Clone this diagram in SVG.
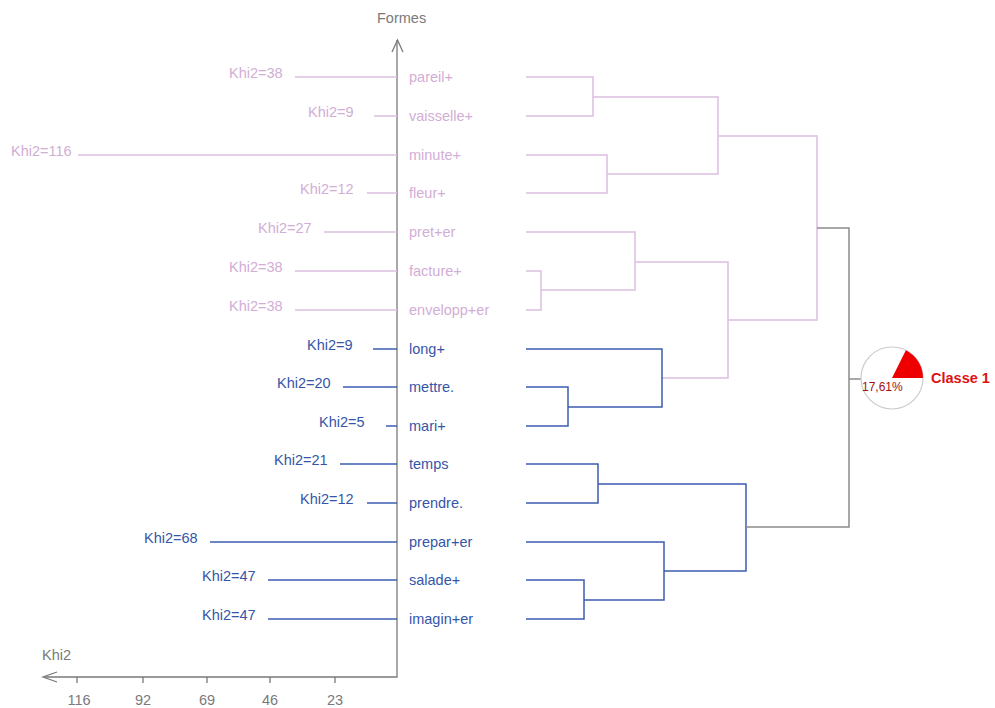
<svg xmlns="http://www.w3.org/2000/svg" width="995" height="708" viewBox="0 0 995 708">
<style>
text{font-family:"Liberation Sans",Arial,sans-serif;font-size:14.5px}
.pt{fill:#d2aed6}
.bt{fill:#3556a8}
.pl{stroke:#dcbfe0;stroke-width:1.5;fill:none}
.bl{stroke:#3c5cb0;stroke-width:1.5;fill:none}
.gl{stroke:#8c8c8c;stroke-width:1.5;fill:none}
.ax{stroke:#7a7a7a;stroke-width:1.3;fill:none}
.at{fill:#7a7a7a}
</style>
<rect width="995" height="708" fill="#ffffff"/>
<g id="axes">
<path class="ax" d="M397,40 V677 H44"/>
<path class="ax" d="M392,52 L397.5,40 L403,52"/>
<path class="ax" d="M57,672 L43,677 L57,682"/>
<path class="ax" d="M77,677 v6 M143,677 v6 M207,677 v6 M270,677 v6 M335,677 v6"/>
<text class="at" x="377" y="23">Formes</text>
<text class="at" x="42" y="660">Khi2</text>
<g class="at" text-anchor="middle">
<text x="79" y="705">116</text>
<text x="143" y="705">92</text>
<text x="207" y="705">69</text>
<text x="270" y="705">46</text>
<text x="335" y="705">23</text>
</g>
</g>
<g id="leaf-pareil"><path class="pl" d="M295,77 H397"/><text class="pt" x="229" y="78">Khi2=38</text><text class="pt" x="409" y="82">pareil+</text></g>
<g id="leaf-vaisselle"><path class="pl" d="M374,116 H397"/><text class="pt" x="308" y="117">Khi2=9</text><text class="pt" x="409" y="121">vaisselle+</text></g>
<g id="leaf-minute"><path class="pl" d="M78,155 H397"/><text class="pt" x="11" y="156">Khi2=116</text><text class="pt" x="409" y="160">minute+</text></g>
<g id="leaf-fleur"><path class="pl" d="M367,193 H397"/><text class="pt" x="300" y="194">Khi2=12</text><text class="pt" x="409" y="198">fleur+</text></g>
<g id="leaf-pret"><path class="pl" d="M324,232 H397"/><text class="pt" x="258" y="233">Khi2=27</text><text class="pt" x="409" y="237">pret+er</text></g>
<g id="leaf-facture"><path class="pl" d="M295,271 H397"/><text class="pt" x="229" y="272">Khi2=38</text><text class="pt" x="409" y="276">facture+</text></g>
<g id="leaf-envelopp"><path class="pl" d="M295,310 H397"/><text class="pt" x="229" y="311">Khi2=38</text><text class="pt" x="409" y="315">envelopp+er</text></g>
<g id="leaf-long"><path class="bl" d="M373,349 H397"/><text class="bt" x="307" y="350">Khi2=9</text><text class="bt" x="409" y="354">long+</text></g>
<g id="leaf-mettre"><path class="bl" d="M343,387 H397"/><text class="bt" x="277" y="388">Khi2=20</text><text class="bt" x="409" y="392">mettre.</text></g>
<g id="leaf-mari"><path class="bl" d="M386,426 H397"/><text class="bt" x="319" y="427">Khi2=5</text><text class="bt" x="409" y="431">mari+</text></g>
<g id="leaf-temps"><path class="bl" d="M340,464 H397"/><text class="bt" x="274" y="465">Khi2=21</text><text class="bt" x="409" y="469">temps</text></g>
<g id="leaf-prendre"><path class="bl" d="M367,503 H397"/><text class="bt" x="300" y="504">Khi2=12</text><text class="bt" x="409" y="508">prendre.</text></g>
<g id="leaf-prepar"><path class="bl" d="M210,542 H397"/><text class="bt" x="144" y="543">Khi2=68</text><text class="bt" x="409" y="547">prepar+er</text></g>
<g id="leaf-salade"><path class="bl" d="M268,580 H397"/><text class="bt" x="202" y="581">Khi2=47</text><text class="bt" x="409" y="585">salade+</text></g>
<g id="leaf-imagin"><path class="bl" d="M268,619 H397"/><text class="bt" x="202" y="620">Khi2=47</text><text class="bt" x="409" y="624">imagin+er</text></g>
<g id="connectors">
<path class="pl" d="M526,77 H593 V116 H526"/>
<path class="pl" d="M526,155 H607 V193 H526"/>
<path class="pl" d="M593,97 H718 V174 H607"/>
<path class="pl" d="M526,271 H541 V310 H526"/>
<path class="pl" d="M526,232 H635 V290 H541"/>
<path class="pl" d="M635,262 H728 V378 H662"/>
<path class="pl" d="M718,136 H817 V320 H728"/>
<path class="bl" d="M526,387 H568 V426 H526"/>
<path class="bl" d="M526,349 H662 V407 H568"/>
<path class="bl" d="M526,464 H598 V503 H526"/>
<path class="bl" d="M526,580 H584 V619 H526"/>
<path class="bl" d="M526,542 H664 V600 H584"/>
<path class="bl" d="M598,484 H746 V571 H664"/>
<path class="gl" d="M817,228 H849 V527 H746"/>
<path class="gl" d="M849,379 H861"/>
</g>
<g id="classe1">
<circle cx="892" cy="378" r="31" fill="#ffffff" stroke="#cccccc" stroke-width="1.2"/>
<path d="M892,378 L923,378 A31,31 0 0 0 905.9,350.3 Z" fill="#ee0000"/>
<text x="862" y="391" font-size="12" fill="#a01010" style="font-size:12px">17,61%</text>
<text x="931" y="383" fill="#dd1111" font-weight="bold">Classe 1</text>
</g>
</svg>
